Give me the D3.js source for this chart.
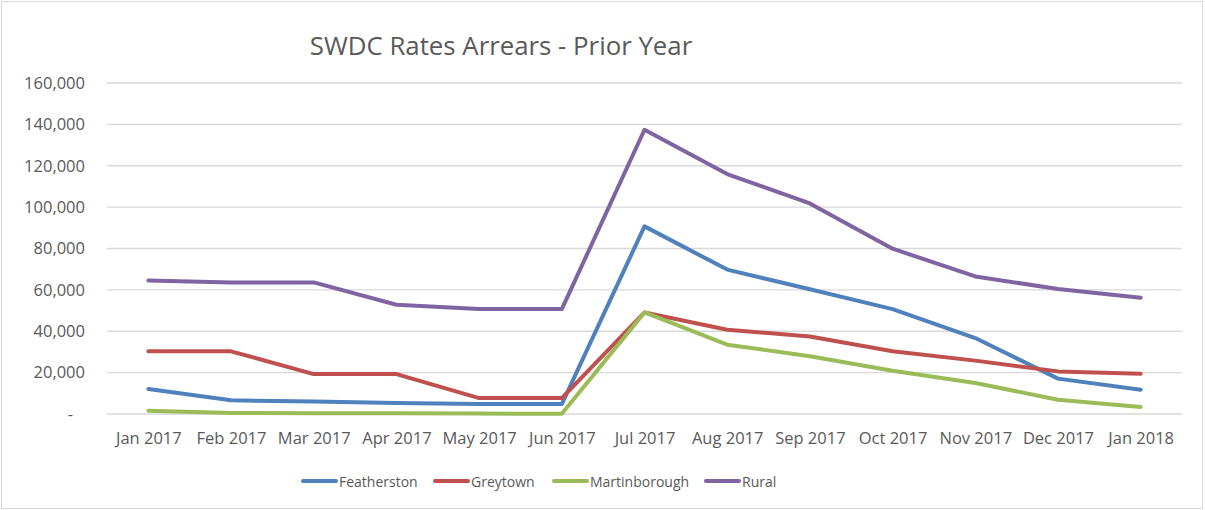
<!DOCTYPE html>
<html>
<head>
<meta charset="utf-8">
<script src="https://cdn.jsdelivr.net/npm/d3@7"></script>
<style>
  body { margin: 0; background: #fff; }
  text { font-family: "Open Sans", "Noto Sans", sans-serif; fill: #595959; }
</style>
</head>
<body>
<div id="chart"></div>
<script>
// SWDC Rates Arrears chart

// Data
var months = ["Jan 2017", "Feb 2017", "Mar 2017", "Apr 2017", "May 2017", "Jun 2017",
  "Jul 2017", "Aug 2017", "Sep 2017", "Oct 2017", "Nov 2017", "Dec 2017", "Jan 2018"];
var featherston = [12100, 6600, 6100, 5300, 4800, 4800, 90700, 69800, 60300, 50700, 36700, 17100, 11700];
var greytown = [30300, 30300, 19300, 19300, 7700, 7700, 49100, 40700, 37500, 30300, 25800, 20600, 19500];
var martinborough = [1600, 500, 400, 400, 200, 100, 49100, 33500, 27900, 20900, 15000, 6900, 3400];
var rural = [64500, 63600, 63600, 52800, 50700, 50700, 137400, 116000, 101800, 79900, 66500, 60400, 56200];
var seriesNames = ["Featherston", "Greytown", "Martinborough", "Rural"];
var yTicks = [0, 20000, 40000, 60000, 80000, 100000, 120000, 140000, 160000];

var colors = ["#4F81BD", "#C0504D", "#9BBB59", "#8064A2"];
var series = [featherston, greytown, martinborough, rural];

// SVG area
var svgWidth = 1205;
var svgHeight = 510;

var margin = { top: 83, right: 23, bottom: 96, left: 107 };
var width = svgWidth - margin.left - margin.right;
var height = svgHeight - margin.top - margin.bottom;

var svg = d3.select("#chart")
  .append("svg")
  .attr("width", svgWidth)
  .attr("height", svgHeight);

// outer border
svg.append("rect")
  .attr("x", 1.5).attr("y", 1.5)
  .attr("width", svgWidth - 4).attr("height", svgHeight - 3)
  .attr("fill", "#fff")
  .attr("stroke", "#d9d9d9");

// title
svg.append("text")
  .attr("x", 501)
  .attr("y", 55)
  .attr("text-anchor", "middle")
  .attr("font-size", "25.8px")
  .text("SWDC Rates Arrears - Prior Year");

var chartGroup = svg.append("g")
  .attr("transform", `translate(${margin.left}, ${margin.top})`);

// scales
var xScale = d3.scalePoint()
  .domain(months)
  .range([0, width])
  .padding(0.5);

var yScale = d3.scaleLinear()
  .domain([0, 160000])
  .range([height, 0]);

// gridlines
chartGroup.selectAll("line.grid")
  .data(yTicks)
  .enter()
  .append("line")
  .attr("class", "grid")
  .attr("x1", 0)
  .attr("x2", width)
  .attr("y1", d => yScale(d))
  .attr("y2", d => yScale(d))
  .attr("stroke", "#d9d9d9")
  .attr("stroke-width", 1.3);

// y axis
var leftAxis = d3.axisLeft(yScale)
  .tickValues(yTicks)
  .tickSize(0)
  .tickPadding(22)
  .tickFormat(d => d === 0 ? "-" : d3.format(",")(d));

var yAxisG = chartGroup.append("g").call(leftAxis);
yAxisG.select(".domain").remove();
yAxisG.selectAll("text")
  .attr("font-size", "16.5px")
  .attr("font-family", null)
  .attr("fill", "#595959");
yAxisG.selectAll("text").filter(d => d === 0).attr("dx", "-12");

// x axis
var bottomAxis = d3.axisBottom(xScale)
  .tickSize(0)
  .tickPadding(18);

var xAxisG = chartGroup.append("g")
  .attr("transform", `translate(0, ${height})`)
  .call(bottomAxis);
xAxisG.select(".domain").remove();
xAxisG.selectAll("text")
  .attr("font-size", "16.5px")
  .attr("font-family", null)
  .attr("fill", "#595959");

// lines
var line = d3.line()
  .x((d, i) => xScale(months[i]))
  .y(d => yScale(d));

chartGroup.selectAll("path.series")
  .data(series)
  .enter()
  .append("path")
  .attr("class", "series")
  .attr("d", d => line(d))
  .attr("fill", "none")
  .attr("stroke", (d, i) => colors[i])
  .attr("stroke-width", 4)
  .attr("stroke-linejoin", "round")
  .attr("stroke-linecap", "round");

// legend
var legendX = [303, 435, 554, 706];
var legend = svg.selectAll("g.legend")
  .data(seriesNames)
  .enter()
  .append("g")
  .attr("class", "legend")
  .attr("transform", (d, i) => `translate(${legendX[i]}, 481)`);

legend.append("line")
  .attr("x1", 0).attr("x2", 33)
  .attr("y1", 0).attr("y2", 0)
  .attr("stroke", (d, i) => colors[i])
  .attr("stroke-width", 4)
  .attr("stroke-linecap", "round");

legend.append("text")
  .attr("x", 36)
  .attr("y", 5.8)
  .attr("font-size", "14px")
  .text(d => d);
</script>
</body>
</html>
